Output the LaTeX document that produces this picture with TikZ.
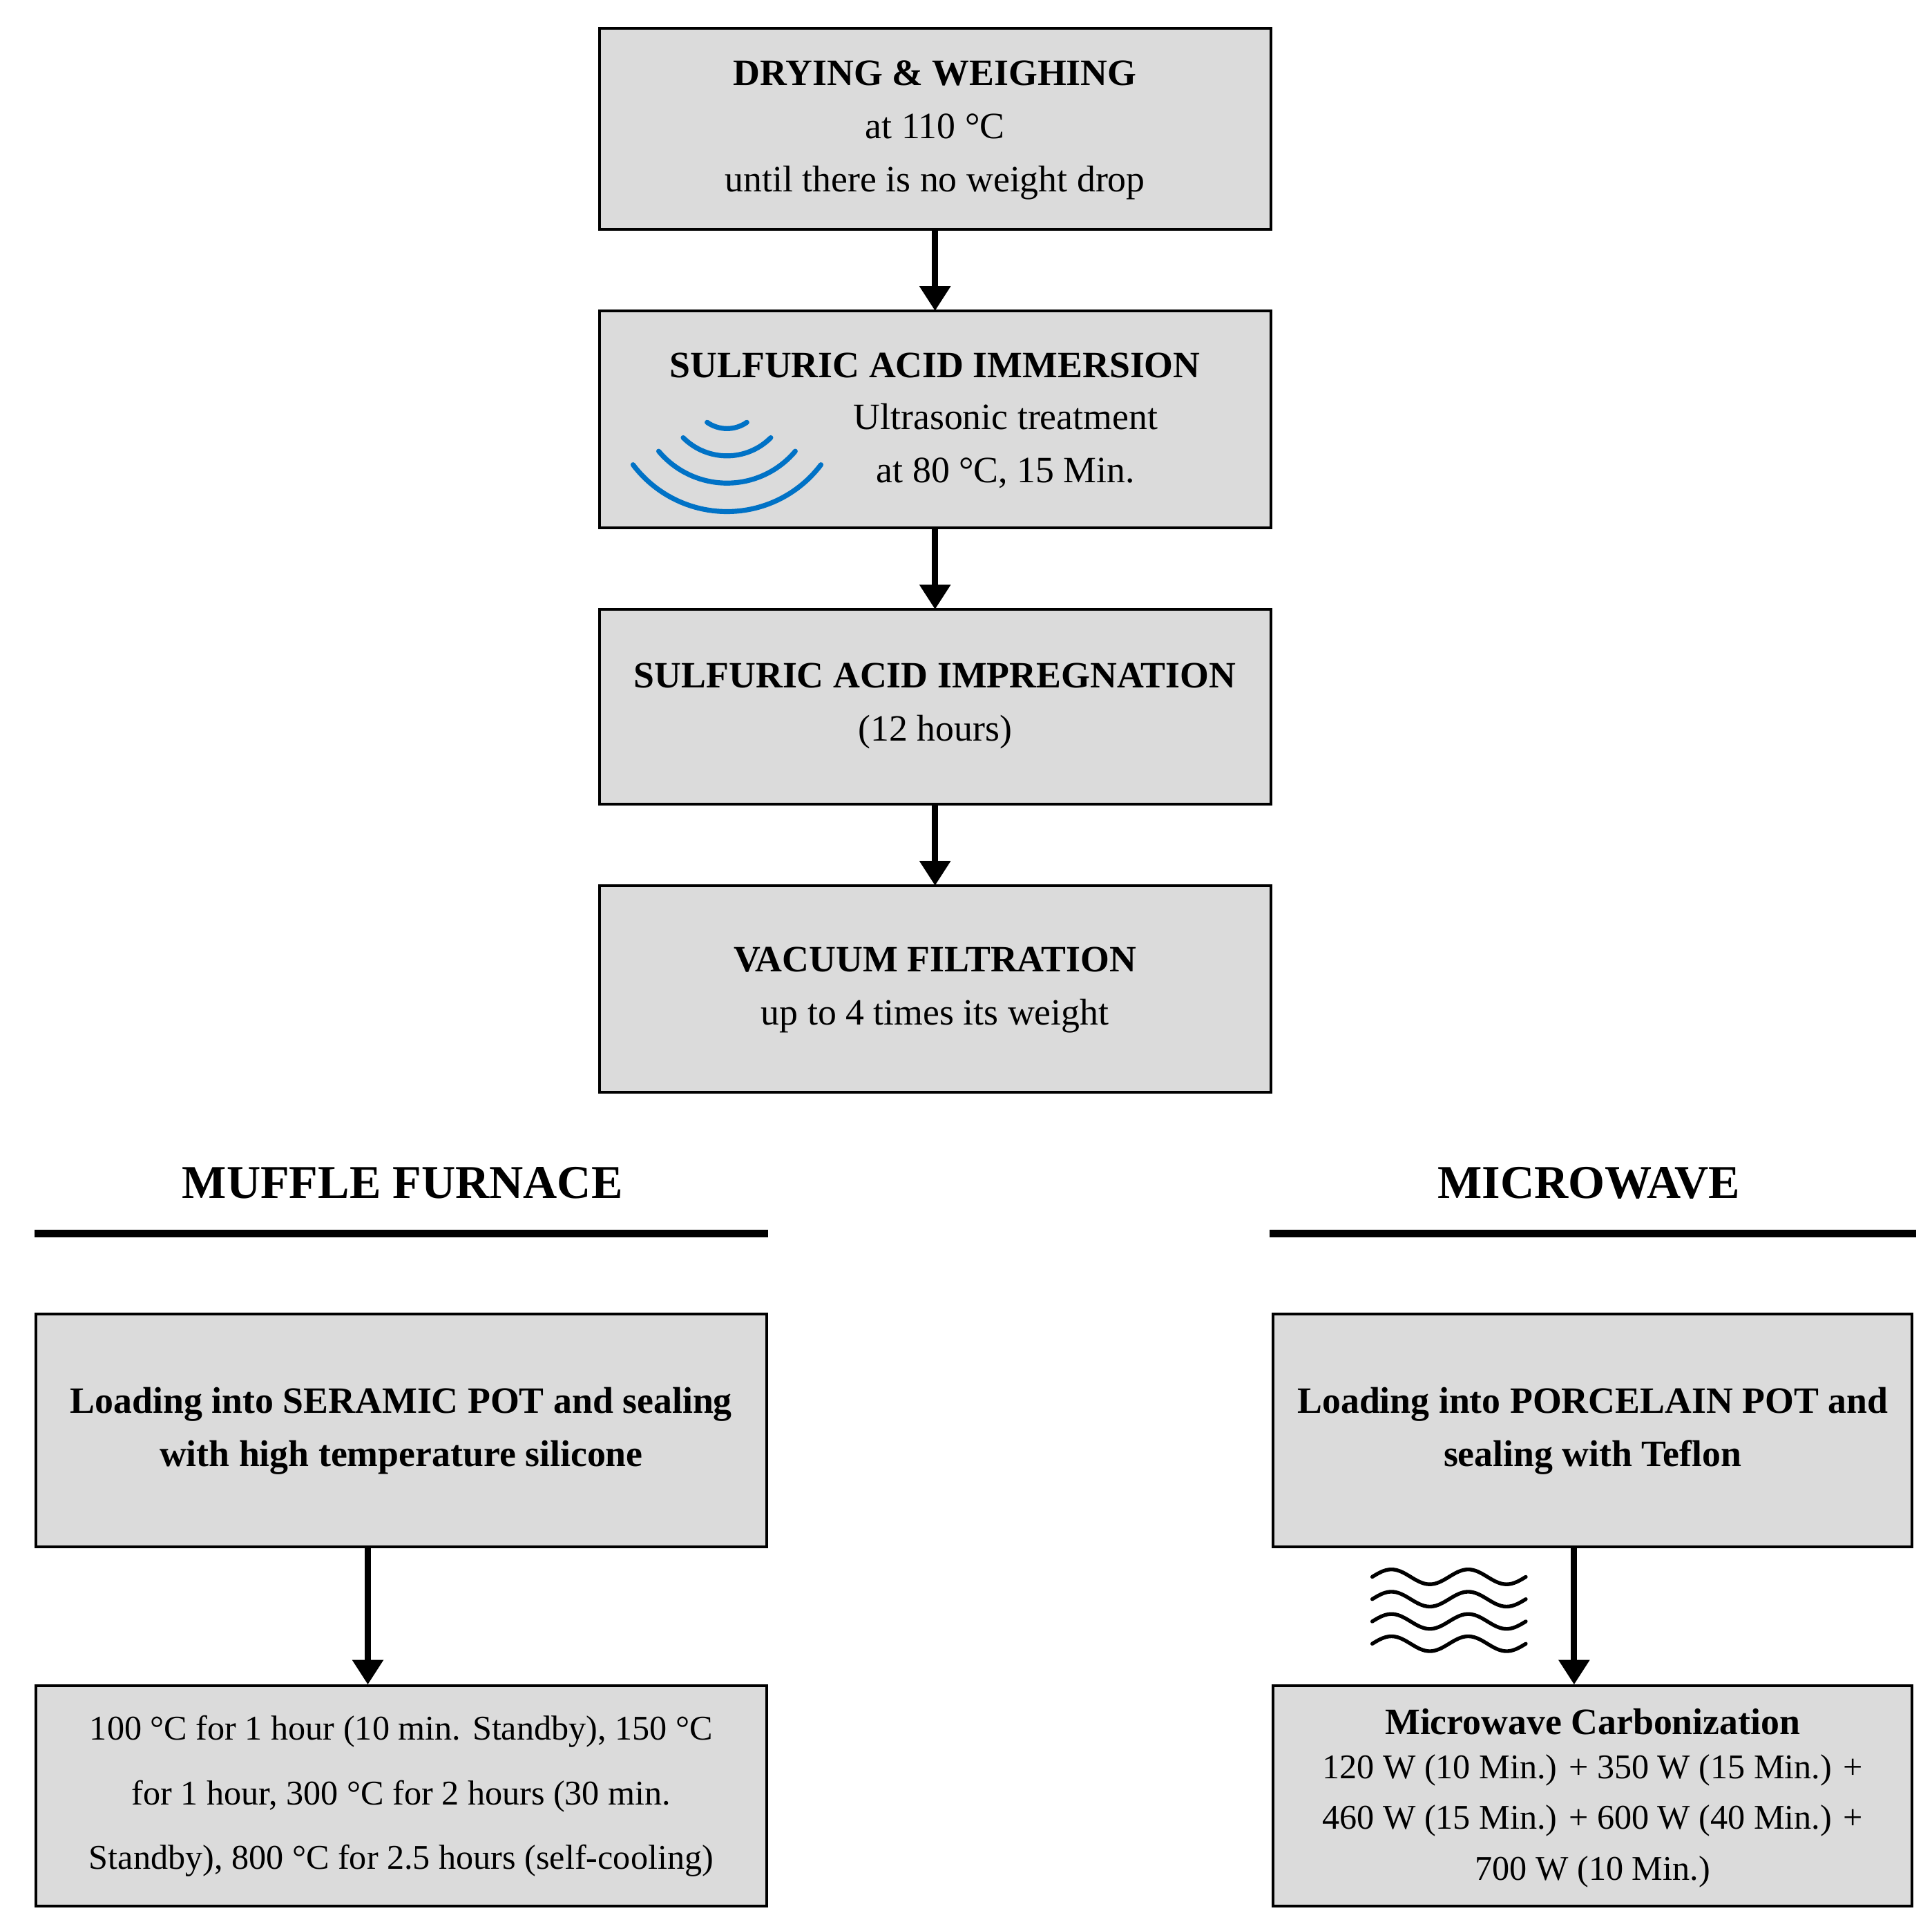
\documentclass[tikz,border=0pt]{standalone}
\usepackage{fontspec}
\setmainfont{Liberation Serif}
\usetikzlibrary{arrows.meta}
\begin{document}
\begin{tikzpicture}[x=1pt,y=-1pt,
  box/.style={draw=black,line width=2.2pt,fill=gray!28,anchor=north west,inner sep=0pt,outer sep=0pt},
  arr/.style={line width=5pt,-{Triangle[length=20pt,width=24pt]}},
  t/.style={font=\fontsize{30}{43}\selectfont,align=center},
  head/.style={font=\fontsize{38}{44}\selectfont\bfseries}]
\useasboundingbox (0,0) rectangle (1560,1544);
% top chain
\node[box,minimum width=542pt,minimum height=162pt] (b1) at (484,23) {};
\node[t] at (755,105) {\textbf{DRYING \& WEIGHING}\\at 110 °C\\until there is no weight drop};
\node[box,minimum width=542pt,minimum height=175pt] (b2) at (484,251) {};
\node[t] at (755,295) {\textbf{SULFURIC ACID IMMERSION}};
\node[t] at (812,360) {Ultrasonic treatment\\at 80 °C, 15 Min.};
\foreach \r/\a in {28/35,50/45,72/50,95/53}
  \draw[color={rgb,255:red,0;green,114;blue,198},line width=4pt,line cap=round]
    (587,318) ++({90-\a}:\r) arc[start angle={90-\a},end angle={90+\a},radius=\r];
\node[box,minimum width=542pt,minimum height=157pt] (b3) at (484,492) {};
\node[t] at (755,570) {\textbf{SULFURIC ACID IMPREGNATION}\\(12 hours)};
\node[box,minimum width=542pt,minimum height=167pt] (b4) at (484,715) {};
\node[t] at (755,799) {\textbf{VACUUM FILTRATION}\\up to 4 times its weight};
\draw[arr] (b1.south) -- (b2.north);
\draw[arr] (b2.south) -- (b3.north);
\draw[arr] (b3.south) -- (b4.north);
% headings
\node[head] (hm) at (325,955) {MUFFLE FURNACE};
\node[head] (hw) at (1283,955) {MICROWAVE};
\draw[line width=6pt] (28,996) -- (620,996);
\draw[line width=6pt] (1025,996) -- (1547,996);
% left column
\node[box,minimum width=590pt,minimum height=188pt] (l1) at (29,1061) {};
\node[t] at (324,1155) {\textbf{Loading into SERAMIC POT and sealing}\\\textbf{with high temperature silicone}};
\node[box,minimum width=590pt,minimum height=178pt] (l2) at (29,1361) {};
\node[t,font=\fontsize{28}{52}\selectfont] at (324,1450) {100 °C for 1 hour (10 min. Standby), 150 °C\\for 1 hour, 300 °C for 2 hours (30 min.\\Standby), 800 °C for 2.5 hours (self-cooling)};
\coordinate (la) at (297,1250);
\coordinate (lb) at (297,1360);
\draw[arr] (la) -- (lb);
% right column
\node[box,minimum width=516pt,minimum height=188pt] (r1) at (1028,1061) {};
\node[t] at (1286,1155) {\textbf{Loading into PORCELAIN POT and}\\\textbf{sealing with Teflon}};
\node[box,minimum width=516pt,minimum height=178pt] (r2) at (1028,1361) {};
\node[t] at (1286,1390) {\textbf{Microwave Carbonization}};
\node[t,font=\fontsize{28}{41}\selectfont] at (1286,1470) {120 W (10 Min.) + 350 W (15 Min.) +\\460 W (15 Min.) + 600 W (40 Min.) +\\700 W (10 Min.)};
\coordinate (ra) at (1271,1250);
\coordinate (rb) at (1271,1360);
\draw[arr] (ra) -- (rb);
\foreach \yy in {1273,1291,1309,1327}
  \draw[line width=3pt,line cap=round,domain=0:124,samples=80] plot ({1108+\x},{\yy-6*sin(\x/124*2*360)});
\end{tikzpicture}
\end{document}
